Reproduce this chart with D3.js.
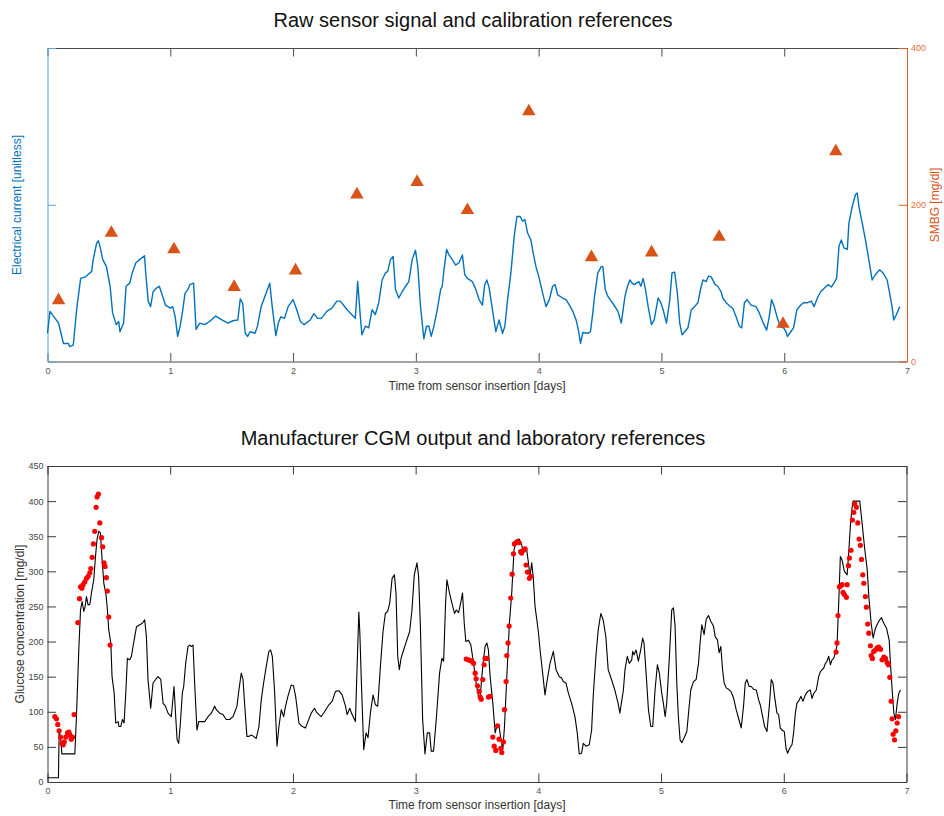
<!DOCTYPE html>
<html>
<head>
<meta charset="utf-8">
<script src="https://cdn.jsdelivr.net/npm/d3@7"></script>
<style>
  body { margin: 0; background: #fff; }
  text { font-family: "Liberation Sans", Arial, sans-serif; }
</style>
</head>
<body>
<div id="chart"></div>
<script>
// ticks
var dayTicks = [0, 1, 2, 3, 4, 5, 6, 7];
var smbgTicks = [0, 200, 400];
var glucoseTicks = [0, 50, 100, 150, 200, 250, 300, 350, 400, 450];

// raw sensor current, [day, value] (unitless, shown on a 0-400 span)
var currentSignal = [
  [0,36],[0.02,64],[0.09,49],[0.11,36],[0.13,23],[0.17,23],[0.18,19],[0.21,21],[0.24,70],[0.27,106],[0.31,108],[0.33,111],[0.36,115],[0.37,128],[0.40,151],[0.415,154],[0.43,145],[0.45,130],[0.48,121],[0.51,96],[0.53,62],[0.56,47],[0.58,51],[0.59,38],[0.62,49],[0.64,96],[0.67,100],[0.69,113],[0.72,126],[0.75,130],[0.79,135],[0.80,113],[0.82,77],[0.84,70],[0.86,89],[0.89,94],[0.91,96],[0.93,87],[0.96,72],[1.00,68],[1.02,70],[1.04,57],[1.06,32],[1.08,45],[1.10,64],[1.12,87],[1.14,91],[1.16,98],[1.19,100],[1.20,70],[1.21,41],[1.24,49],[1.28,47],[1.32,51],[1.37,58],[1.42,53],[1.47,49],[1.51,52],[1.55,53],[1.57,80],[1.59,74],[1.61,36],[1.63,32],[1.65,38],[1.69,36],[1.71,45],[1.74,70],[1.78,87],[1.81,100],[1.83,70],[1.86,33],[1.88,49],[1.90,57],[1.93,55],[1.96,70],[2.00,79],[2.03,66],[2.06,51],[2.09,47],[2.14,53],[2.17,61],[2.20,55],
  [2.23,55],[2.275,64],[2.316,68],[2.357,77],[2.384,77],[2.411,72],[2.439,66],[2.466,62],[2.507,55],[2.526,102],[2.548,57],[2.561,34],[2.589,45],[2.616,43],[2.643,66],[2.670,60],[2.698,75],[2.725,104],[2.752,113],[2.771,115],[2.793,130],[2.815,134],[2.834,92],[2.861,81],[2.888,89],[2.916,96],[2.943,102],[2.970,130],[2.997,142],[3.016,121],[3.038,70],[3.065,29],[3.087,45],[3.106,45],[3.125,32],[3.147,45],[3.174,66],[3.202,92],[3.215,96],[3.229,117],[3.251,143],[3.270,136],[3.297,130],[3.324,123],[3.351,126],[3.379,136],[3.398,111],[3.420,106],[3.460,102],[3.488,92],[3.515,79],[3.542,72],[3.561,98],[3.578,104],[3.597,94],[3.624,66],[3.651,38],[3.678,53],[3.706,36],[3.725,45],[3.747,79],[3.774,113],[3.801,160],[3.823,185],[3.850,185],[3.869,179],[3.888,181],[3.910,164],[3.937,155],[3.956,138],[3.978,121],[4.005,106],[4.033,87],[4.060,70],[4.087,79],[4.114,96],[4.134,98],[4.155,85],[4.196,81],[4.223,79],[4.251,72],[4.278,64],[4.305,53],[4.324,40],[4.341,23],[4.360,37],[4.401,36],[4.422,38],[4.441,62],[4.455,83],[4.482,113],[4.510,121],[4.523,121],[4.542,92],[4.564,83],[4.605,74],[4.646,64],[4.673,49],
  [4.703,83],[4.724,96],[4.743,104],[4.762,100],[4.778,98],[4.797,100],[4.816,102],[4.832,96],[4.851,106],[4.870,92],[4.892,70],[4.919,47],[4.941,53],[4.973,81],[4.995,75],[5.014,66],[5.041,49],[5.068,79],[5.086,113],[5.108,114],[5.130,87],[5.149,49],[5.168,34],[5.189,38],[5.216,43],[5.243,66],[5.270,70],[5.297,75],[5.324,96],[5.338,104],[5.365,102],[5.384,109],[5.405,108],[5.438,98],[5.459,96],[5.486,89],[5.500,81],[5.527,75],[5.554,71],[5.581,68],[5.608,57],[5.635,45],[5.654,43],[5.676,75],[5.697,79],[5.730,72],[5.770,70],[5.797,62],[5.824,51],[5.857,40],[5.878,57],[5.897,79],[5.919,70],[5.941,57],[5.968,44],[5.995,43],[6.014,38],[6.027,32],[6.049,37],[6.076,43],[6.103,66],[6.135,72],[6.157,75],[6.189,75],[6.222,77],[6.243,70],[6.270,81],[6.297,89],[6.330,94],[6.357,98],[6.384,95],[6.405,100],[6.427,106],[6.446,147],[6.465,155],[6.486,145],[6.514,143],[6.527,177],[6.554,198],[6.581,213],[6.595,215],[6.608,198],[6.635,177],[6.662,155],[6.689,130],[6.716,104],[6.743,111],[6.778,117],[6.805,113],[6.838,104],[6.859,87],[6.878,70],[6.892,53],[6.914,60],[6.941,70]
];

// finger-stick calibration values, [day, mg/dl]
var smbgRefs = [
  [0.09,78],[0.52,164],[1.03,143],[1.52,95],[2.02,116],[2.52,213],[3.01,229],[3.42,193],[3.92,319],[4.43,133],[4.92,139],[5.47,159],[5.99,48],[6.42,268]
];

// manufacturer CGM trace, [day, mg/dl]
var cgmOutput = [
  [0,6],[0.089,6],[0.095,72],[0.1085,60],[0.117,40],[0.2225,40],[0.236,93],[0.255,188],[0.269,245],[0.282,257],[0.296,243],[0.307,250],[0.3175,264],[0.331,252],[0.345,253],[0.358,269],[0.377,288],[0.391,321],[0.404,346],[0.418,357],[0.431,355],[0.445,316],[0.459,283],[0.475,269],[0.486,250],[0.499,217],[0.516,198],[0.526,150],[0.543,127],[0.556,84],[0.575,86],[0.583,79],[0.597,79],[0.611,89],[0.624,84],[0.638,127],[0.651,176],[0.670,174],[0.684,179],[0.697,193],[0.711,207],[0.725,221],[0.752,224],[0.773,226],[0.792,231],[0.806,207],[0.819,146],[0.841,105],[0.860,141],[0.882,146],[0.901,150],[0.923,146],[0.942,112],[0.961,108],[0.982,98],[1.009,93],[1.031,136],[1.045,93],[1.056,60],[1.069,55],[1.083,84],[1.099,127],[1.110,136],[1.126,169],[1.145,193],[1.159,195],[1.172,193],[1.186,195],[1.199,141],[1.218,74],[1.232,86],[1.254,86],[1.281,86],[1.308,93],[1.335,98],[1.362,108],[1.376,103],[1.403,98],[1.430,96],[1.457,89],[1.484,89],[1.512,93],[1.544,108],[1.560,131],[1.579,155],[1.593,146],[1.606,112],[1.625,65],[1.642,65],[1.661,67],[1.680,65],[1.701,62],[1.723,79],[1.742,117],[1.761,141],[1.783,165],[1.804,186],[1.818,188],[1.832,179],[1.850,131],[1.870,51],[1.886,79],[1.905,103],[1.924,93],[1.940,108],[1.959,122],[1.986,138],[2.005,137],[2.022,122],[2.049,84],[2.076,79],[2.103,77],[2.122,86],[2.149,98],[2.176,105],[2.190,100],[2.212,96],
  [2.230,93],[2.257,100],[2.293,110],[2.320,115],[2.347,129],[2.374,130],[2.401,124],[2.428,108],[2.442,96],[2.463,105],[2.482,96],[2.509,86],[2.537,242],[2.545,214],[2.558,141],[2.577,46],[2.596,70],[2.612,63],[2.631,98],[2.653,124],[2.672,110],[2.691,108],[2.713,165],[2.734,214],[2.753,240],[2.772,243],[2.789,255],[2.808,290],[2.827,295],[2.840,269],[2.854,179],[2.867,160],[2.881,176],[2.902,188],[2.924,200],[2.951,214],[2.970,245],[2.989,295],[3.011,312],[3.024,293],[3.038,226],[3.057,89],[3.076,40],[3.095,70],[3.114,70],[3.127,44],[3.146,44],[3.168,89],[3.195,155],[3.214,176],[3.228,172],[3.244,255],[3.255,288],[3.276,269],[3.295,255],[3.317,240],[3.331,245],[3.350,241],[3.369,257],[3.382,269],[3.396,226],[3.409,200],[3.431,202],[3.450,195],[3.472,169],[3.493,141],[3.512,122],[3.526,122],[3.547,165],[3.566,193],[3.580,198],[3.593,188],[3.607,150],[3.629,112],[3.648,70],[3.661,79],[3.680,79],[3.696,60],[3.710,46],[3.724,79],[3.743,150],[3.764,226],[3.783,269],[3.802,331],[3.824,345],[3.843,346],[3.864,338],[3.878,326],[3.892,333],[3.905,331],[3.919,312],[3.932,293],[3.946,312],[3.959,290],[3.973,250],[3.986,233],[4.000,214],[4.014,188],[4.035,155],[4.054,124],[4.073,146],[4.095,169],[4.122,186],[4.144,160],[4.171,150],[4.190,148],[4.203,143],[4.225,141],[4.244,127],[4.271,112],[4.298,93],[4.317,70],[4.333,40],[4.352,41],[4.366,55],[4.388,51],[4.415,53],[4.434,74],[4.447,122],[4.469,179],[4.488,217],[4.509,240],[4.528,231],[4.550,207],[4.569,160],[4.596,146],[4.623,131],[4.650,112],[4.664,98],
  [4.693,131],[4.706,160],[4.725,179],[4.741,169],[4.761,174],[4.769,186],[4.780,181],[4.796,188],[4.815,172],[4.834,188],[4.850,205],[4.861,198],[4.878,155],[4.897,103],[4.916,79],[4.932,79],[4.951,131],[4.970,167],[4.986,155],[5.005,127],[5.019,112],[5.033,93],[5.046,112],[5.068,179],[5.087,245],[5.101,248],[5.114,222],[5.128,141],[5.141,93],[5.155,60],[5.169,56],[5.188,63],[5.210,72],[5.229,108],[5.242,131],[5.264,143],[5.286,146],[5.305,169],[5.318,198],[5.332,224],[5.351,210],[5.367,231],[5.386,237],[5.405,229],[5.427,222],[5.441,207],[5.460,202],[5.473,184],[5.487,193],[5.501,160],[5.514,141],[5.531,134],[5.550,132],[5.569,129],[5.590,120],[5.612,103],[5.634,89],[5.653,77],[5.672,108],[5.686,141],[5.699,146],[5.718,136],[5.735,136],[5.754,132],[5.776,131],[5.795,117],[5.808,110],[5.822,98],[5.844,79],[5.863,72],[5.882,108],[5.898,146],[5.912,141],[5.925,122],[5.944,98],[5.958,96],[5.971,77],[5.985,74],[6.004,72],[6.018,48],[6.031,41],[6.048,48],[6.067,53],[6.080,70],[6.094,98],[6.107,112],[6.127,117],[6.140,122],[6.156,115],[6.176,124],[6.195,129],[6.216,131],[6.230,119],[6.244,126],[6.265,131],[6.284,150],[6.298,157],[6.312,160],[6.325,162],[6.339,169],[6.352,172],[6.366,179],[6.380,167],[6.393,174],[6.407,176],[6.420,184],[6.434,195],[6.448,257],[6.461,321],[6.475,316],[6.494,300],[6.516,295],[6.529,326],[6.543,366],[6.556,390],[6.565,400],[6.619,400],[6.638,369],[6.660,331],[6.680,302],[6.693,264],[6.712,226],[6.728,205],[6.747,219],[6.766,226],[6.782,231],[6.796,234],[6.815,226],[6.837,219],[6.859,202],[6.869,169],[6.883,131],[6.897,98],[6.910,89],[6.924,112],[6.937,126],[6.951,131]
];

// laboratory reference glucose, [day, mg/dl]
var labRefs = [
  [0.060,93],[0.073,90],[0.084,82],[0.095,73],[0.106,64],[0.119,55],[0.128,53],[0.136,57],[0.149,64],[0.163,70],[0.174,71],[0.182,67],[0.193,61],[0.204,64],[0.217,96],[0.247,227],[0.261,261],[0.269,278],[0.280,276],[0.290,281],[0.304,285],[0.318,290],[0.331,293],[0.345,298],[0.353,304],[0.364,320],[0.374,339],[0.385,357],[0.396,391],[0.404,406],[0.415,410],[0.426,369],[0.440,348],[0.450,335],[0.461,312],[0.469,307],[0.480,291],[0.488,272],[0.499,235],[0.510,195],
  [3.412,175],[3.431,174],[3.444,173],[3.458,172],[3.472,169],[3.485,155],[3.493,147],[3.504,137],[3.518,129],[3.526,121],[3.534,118],[3.547,146],[3.558,167],[3.566,176],[3.580,176],[3.593,121],[3.607,122],[3.629,64],[3.640,51],[3.653,45],[3.667,80],[3.680,61],[3.694,48],[3.702,42],[3.715,57],[3.724,103],[3.737,143],[3.743,180],[3.753,198],[3.762,222],[3.775,262],[3.786,296],[3.797,325],[3.805,339],[3.818,341],[3.829,342],[3.843,341],[3.856,328],[3.864,326],[3.878,330],[3.892,332],[3.900,309],[3.911,299],[3.927,290],[3.938,293],
  [6.426,185],[6.434,198],[6.442,237],[6.453,278],[6.461,279],[6.475,281],[6.483,270],[6.494,267],[6.510,263],[6.516,281],[6.527,308],[6.535,319],[6.548,330],[6.559,373],[6.570,384],[6.578,396],[6.592,391],[6.603,369],[6.614,346],[6.624,337],[6.633,317],[6.644,295],[6.652,283],[6.665,264],[6.673,249],[6.684,225],[6.693,212],[6.706,194],[6.712,180],[6.722,176],[6.733,186],[6.747,188],[6.760,191],[6.774,192],[6.788,189],[6.801,174],[6.815,178],[6.829,176],[6.842,170],[6.853,167],[6.864,149],[6.875,115],[6.883,90],[6.891,68],[6.902,60],[6.913,73],[6.924,84],[6.935,93]
];

var blue = "#0072BD", orange = "#D95319";

var svg = d3.select("#chart").append("svg")
  .attr("width", 944)
  .attr("height", 816);

function styleAxis(g, lineColor, textColor) {
  g.select(".domain").attr("stroke", lineColor).attr("stroke-width", 1);
  g.selectAll(".tick line").attr("stroke", lineColor).attr("stroke-width", 1);
  g.selectAll(".tick text").attr("fill", textColor).style("font-size", "9px");
}

// ---------- top panel ----------
var x1 = d3.scaleLinear().domain([0, 7]).range([47.5, 907]);
var yCur = d3.scaleLinear().domain([0, 400]).range([361.5, 48]);
var ySmbg = d3.scaleLinear().domain([0, 400]).range([361.5, 48]);

var topPanel = svg.append("g");

topPanel.append("g")
  .attr("transform", "translate(0,361.5)")
  .call(d3.axisBottom(x1).tickValues(dayTicks).tickFormat(d3.format("d")).tickSizeInner(-8.5).tickSizeOuter(0).tickPadding(6))
  .call(styleAxis, "#4d4d4d", "#555");

topPanel.append("g")
  .attr("transform", "translate(0,48)")
  .call(d3.axisTop(x1).tickValues(dayTicks).tickFormat("").tickSizeInner(-8.5).tickSizeOuter(0))
  .call(styleAxis, "#4d4d4d", "#555");

topPanel.append("g")
  .attr("transform", "translate(47.5,0)")
  .call(d3.axisLeft(yCur).tickValues(smbgTicks).tickFormat("").tickSizeInner(-8.5).tickSizeOuter(0))
  .call(styleAxis, "#5aa3db", blue);

topPanel.append("g")
  .attr("transform", "translate(907,0)")
  .call(d3.axisRight(ySmbg).tickValues(smbgTicks).tickFormat(d3.format("d")).tickSizeInner(-8.5).tickSizeOuter(0).tickPadding(4))
  .call(styleAxis, "#d9602a", "#e07040");

topPanel.append("path")
  .datum(currentSignal)
  .attr("fill", "none")
  .attr("stroke", blue)
  .attr("stroke-width", 1.4)
  .attr("stroke-linejoin", "round")
  .attr("d", d3.line().x(d => x1(d[0])).y(d => yCur(d[1])));

topPanel.selectAll(".smbg")
  .data(smbgRefs)
  .join("path")
  .attr("class", "smbg")
  .attr("transform", d => `translate(${x1(d[0])},${ySmbg(d[1])})`)
  .attr("d", d3.symbol(d3.symbolTriangle, 78))
  .attr("fill", orange);

topPanel.append("text")
  .attr("x", 473).attr("y", 27)
  .attr("text-anchor", "middle")
  .style("font-size", "20px")
  .attr("fill", "#111")
  .text("Raw sensor signal and calibration references");

topPanel.append("text")
  .attr("x", 477).attr("y", 390)
  .attr("text-anchor", "middle")
  .style("font-size", "12px")
  .attr("fill", "#333")
  .text("Time from sensor insertion [days]");

topPanel.append("text")
  .attr("transform", "translate(21,205) rotate(-90)")
  .attr("text-anchor", "middle")
  .style("font-size", "12px")
  .attr("fill", blue)
  .text("Electrical current [unitless]");

topPanel.append("text")
  .attr("transform", "translate(939,205) rotate(-90)")
  .attr("text-anchor", "middle")
  .style("font-size", "12px")
  .attr("fill", orange)
  .text("SMBG [mg/dl]");

// ---------- bottom panel ----------
var x2 = d3.scaleLinear().domain([0, 7]).range([47.5, 906.5]);
var yGlu = d3.scaleLinear().domain([0, 450]).range([782, 466]);

var botPanel = svg.append("g");

botPanel.append("g")
  .attr("transform", "translate(0,782)")
  .call(d3.axisBottom(x2).tickValues(dayTicks).tickFormat(d3.format("d")).tickSizeInner(-8.5).tickSizeOuter(0).tickPadding(6))
  .call(styleAxis, "#3a3a3a", "#555");

botPanel.append("g")
  .attr("transform", "translate(0,466)")
  .call(d3.axisTop(x2).tickValues(dayTicks).tickFormat("").tickSizeInner(-8.5).tickSizeOuter(0))
  .call(styleAxis, "#3a3a3a", "#555");

botPanel.append("g")
  .attr("transform", "translate(47.5,0)")
  .call(d3.axisLeft(yGlu).tickValues(glucoseTicks).tickFormat(d3.format("d")).tickSizeInner(-8.5).tickSizeOuter(0).tickPadding(4))
  .call(styleAxis, "#3a3a3a", "#444");

botPanel.append("g")
  .attr("transform", "translate(906.5,0)")
  .call(d3.axisRight(yGlu).tickValues(glucoseTicks).tickFormat("").tickSizeInner(-8.5).tickSizeOuter(0))
  .call(styleAxis, "#3a3a3a", "#444");

botPanel.append("path")
  .datum(cgmOutput)
  .attr("fill", "none")
  .attr("stroke", "#000")
  .attr("stroke-width", 1.1)
  .attr("stroke-linejoin", "round")
  .attr("d", d3.line().x(d => x2(d[0])).y(d => yGlu(d[1])));

botPanel.selectAll(".lab")
  .data(labRefs)
  .join("circle")
  .attr("class", "lab")
  .attr("cx", d => x2(d[0]))
  .attr("cy", d => yGlu(d[1]))
  .attr("r", 2.6)
  .attr("fill", "#ff0000");

botPanel.append("text")
  .attr("x", 473).attr("y", 445)
  .attr("text-anchor", "middle")
  .style("font-size", "20px")
  .attr("fill", "#111")
  .text("Manufacturer CGM output and laboratory references");

botPanel.append("text")
  .attr("x", 477).attr("y", 809)
  .attr("text-anchor", "middle")
  .style("font-size", "12px")
  .attr("fill", "#333")
  .text("Time from sensor insertion [days]");

botPanel.append("text")
  .attr("transform", "translate(24,624) rotate(-90)")
  .attr("text-anchor", "middle")
  .style("font-size", "12px")
  .attr("fill", "#333")
  .text("Glucose concentration [mg/dl]");
</script>
</body>
</html>
